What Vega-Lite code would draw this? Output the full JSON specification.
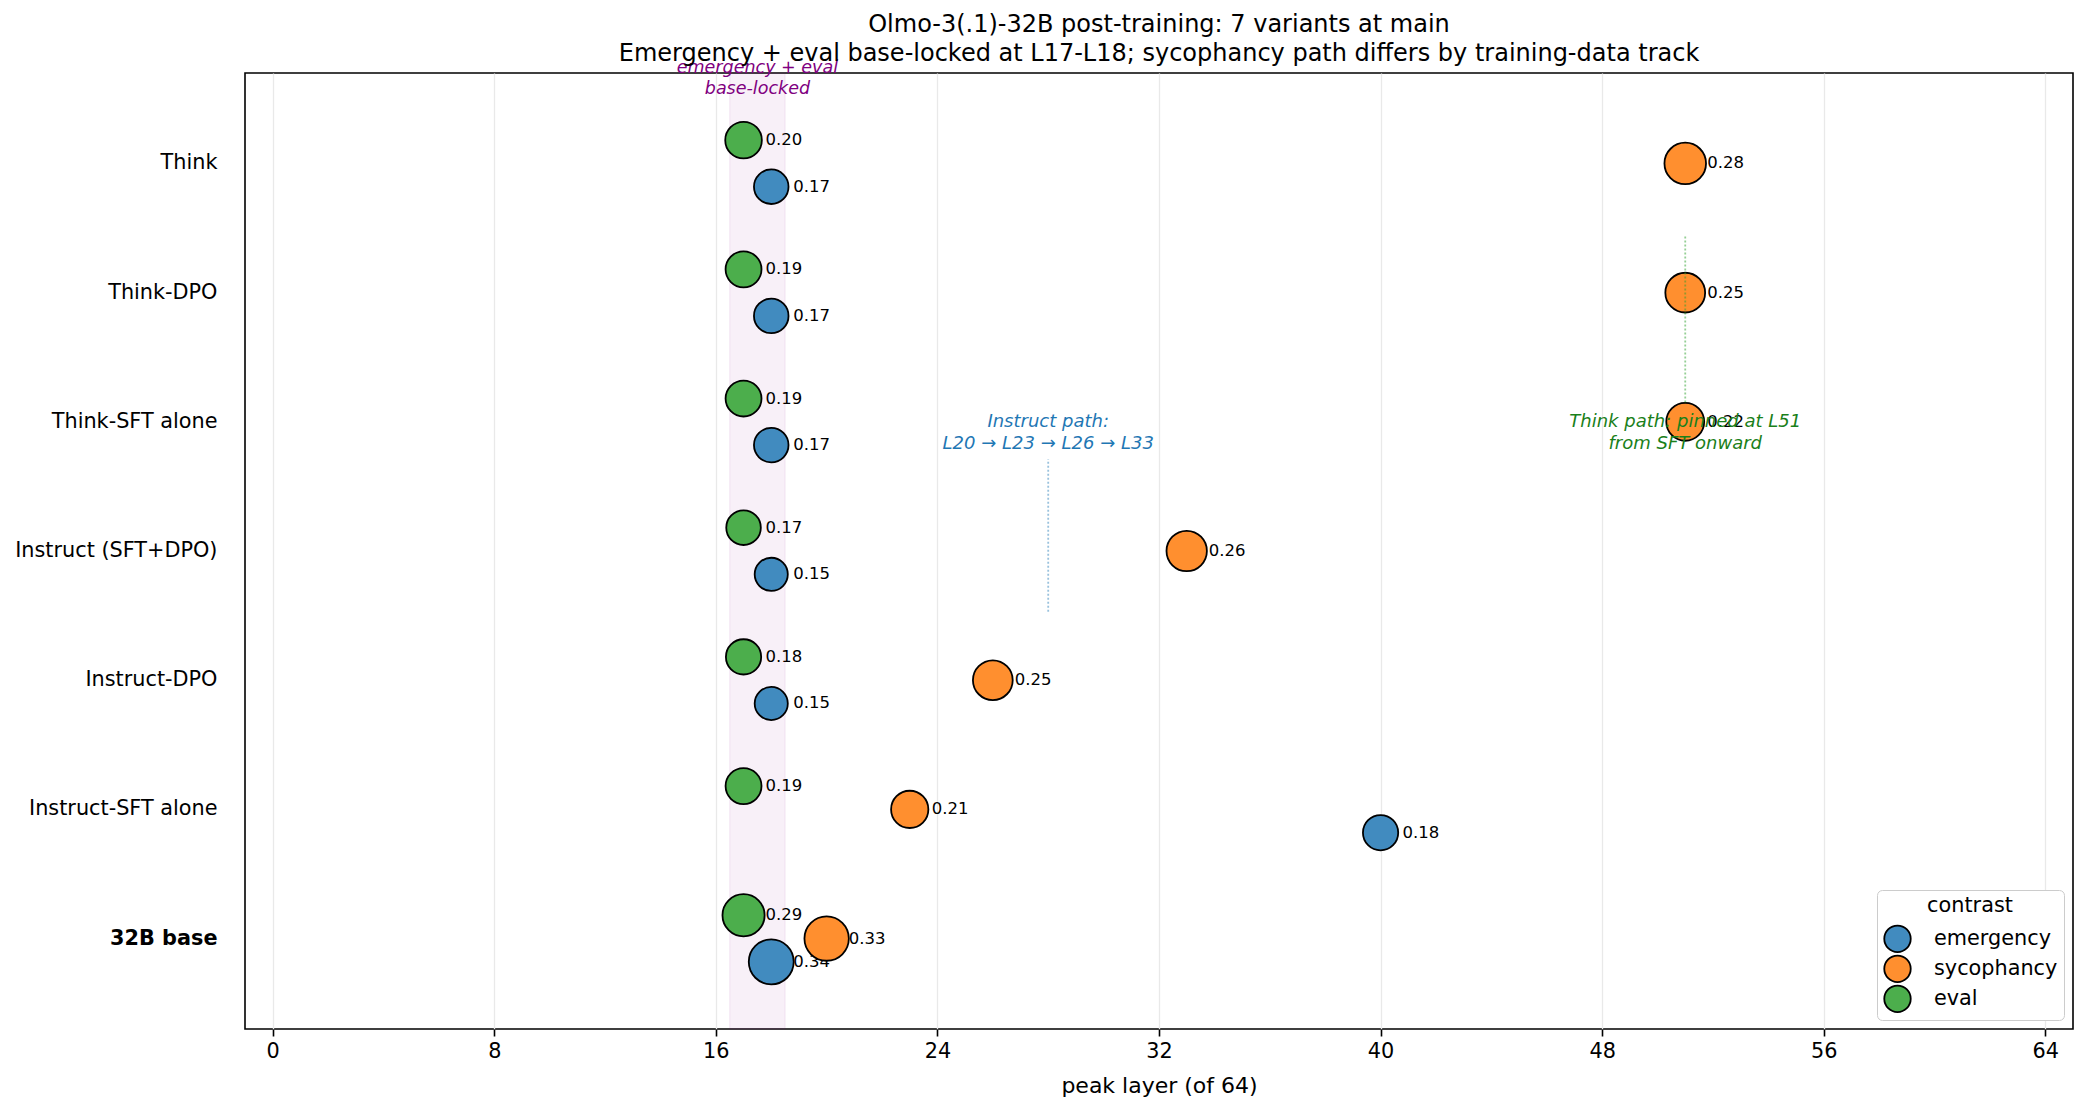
{
  "$schema": "https://vega.github.io/schema/vega-lite/v6.json",
  "width": 1828,
  "height": 956,
  "autosize": {"type": "none"},
  "padding": {"left": 245, "top": 73, "right": 15, "bottom": 83},
  "background": "white",
  "config": {
    "font": "DejaVu Sans",
    "view": {"stroke": "#000", "strokeWidth": 1.6},
    "axis": {"labelColor": "#000", "titleColor": "#000", "labelFontSize": 20.8, "titleFontSize": 22, "titleFontWeight": "normal", "domain": false},
    "legend": {
      "orient": "bottom-right", "offset": 9, "padding": 6, "fillColor": "white", "strokeColor": "#cccccc", "cornerRadius": 5,
      "titleFontSize": 20.8, "titleFontWeight": "normal", "titleColor": "#000", "titleAnchor": "middle", "titleAlign": "center", "titlePadding": 7,
      "labelFontSize": 20.8, "labelColor": "#000", "labelOffset": 22,
      "symbolType": "circle", "symbolSize": 700, "symbolStrokeColor": "#000", "symbolStrokeWidth": 1.8, "rowPadding": 0, "clipHeight": 30
    }
  },
  "title": {
    "text": ["Olmo-3(.1)-32B post-training: 7 variants at main", "Emergency + eval base-locked at L17-L18; sycophancy path differs by training-data track"],
    "fontSize": 24, "fontWeight": "normal", "lineHeight": 29, "anchor": "middle", "offset": 1, "dy": 8, "color": "#000"
  },
  "datasets": {
    "points": [
      {"variant": "Think", "contrast": "emergency", "layer": 18, "score": 0.17},
      {"variant": "Think", "contrast": "sycophancy", "layer": 51, "score": 0.28},
      {"variant": "Think", "contrast": "eval", "layer": 17, "score": 0.20},
      {"variant": "Think-DPO", "contrast": "emergency", "layer": 18, "score": 0.17},
      {"variant": "Think-DPO", "contrast": "sycophancy", "layer": 51, "score": 0.25},
      {"variant": "Think-DPO", "contrast": "eval", "layer": 17, "score": 0.19},
      {"variant": "Think-SFT alone", "contrast": "emergency", "layer": 18, "score": 0.17},
      {"variant": "Think-SFT alone", "contrast": "sycophancy", "layer": 51, "score": 0.22},
      {"variant": "Think-SFT alone", "contrast": "eval", "layer": 17, "score": 0.19},
      {"variant": "Instruct (SFT+DPO)", "contrast": "emergency", "layer": 18, "score": 0.15},
      {"variant": "Instruct (SFT+DPO)", "contrast": "sycophancy", "layer": 33, "score": 0.26},
      {"variant": "Instruct (SFT+DPO)", "contrast": "eval", "layer": 17, "score": 0.17},
      {"variant": "Instruct-DPO", "contrast": "emergency", "layer": 18, "score": 0.15},
      {"variant": "Instruct-DPO", "contrast": "sycophancy", "layer": 26, "score": 0.25},
      {"variant": "Instruct-DPO", "contrast": "eval", "layer": 17, "score": 0.18},
      {"variant": "Instruct-SFT alone", "contrast": "emergency", "layer": 40, "score": 0.18},
      {"variant": "Instruct-SFT alone", "contrast": "sycophancy", "layer": 23, "score": 0.21},
      {"variant": "Instruct-SFT alone", "contrast": "eval", "layer": 17, "score": 0.19},
      {"variant": "32B base", "contrast": "emergency", "layer": 18, "score": 0.34},
      {"variant": "32B base", "contrast": "sycophancy", "layer": 20, "score": 0.33},
      {"variant": "32B base", "contrast": "eval", "layer": 17, "score": 0.29}
    ]
  },
  "layer": [
    {
      "data": {"name": "points"},
      "layer": [
        {
          "data": {"values": [{}]},
          "mark": {"type": "rect", "fill": "#800080", "fillOpacity": 0.06, "stroke": "#800080", "strokeOpacity": 0.06, "strokeWidth": 1.5},
          "encoding": {"x": {"datum": 16.5, "type": "quantitative"}, "x2": {"datum": 18.5}}
        },
        {
          "transform": [{"filter": "datum.contrast === 'emergency'"}],
          "mark": {"type": "circle", "fillOpacity": 1, "stroke": "#000", "strokeWidth": 1.8},
          "encoding": {
            "x": {"field": "layer", "type": "quantitative", "scale": {"domain": [-1, 65], "nice": false, "zero": false},
              "axis": {"values": [0, 8, 16, 24, 32, 40, 48, 56, 64], "title": "peak layer (of 64)", "grid": true, "gridColor": "#e9e9e9", "gridWidth": 1.3, "tickSize": 7, "tickColor": "#000", "tickWidth": 1.6, "labelPadding": 5, "titlePadding": 15}},
            "y": {"field": "variant", "type": "nominal",
              "scale": {"domain": ["Think", "Think-DPO", "Think-SFT alone", "Instruct (SFT+DPO)", "Instruct-DPO", "Instruct-SFT alone", "32B base"], "paddingInner": 0, "paddingOuter": 0.2},
              "axis": {"title": null, "ticks": false, "labelPadding": 28, "labelLimit": 400, "grid": false, "labelFontWeight": {"condition": {"test": "datum.value === '32B base'", "value": "bold"}, "value": "normal"}}},
            "yOffset": {"field": "contrast", "type": "nominal", "scale": {"type": "point", "domain": ["eval", "sycophancy", "emergency"], "range": [41.3, 87.9], "padding": 0}},
            "color": {"field": "contrast", "type": "nominal", "scale": {"domain": ["emergency", "sycophancy", "eval"], "range": ["#418bbf", "#ff8f2f", "#4cae4c"]}, "legend": {"title": "contrast"}},
            "size": {"field": "score", "type": "quantitative", "scale": {"domain": [0, 1], "range": [371, 5217], "zero": false}, "legend": null}
          }
        },
        {
          "transform": [{"filter": "datum.contrast === 'emergency'"}],
          "mark": {"type": "text", "align": "left", "baseline": "middle", "dx": 22, "fontSize": 16.5, "color": "#000"},
          "encoding": {
            "x": {"field": "layer", "type": "quantitative"},
            "y": {"field": "variant", "type": "nominal"},
            "yOffset": {"field": "contrast", "type": "nominal"},
            "text": {"field": "score", "type": "quantitative", "format": ".2f"}
          }
        },
        {
          "transform": [{"filter": "datum.contrast === 'sycophancy'"}],
          "mark": {"type": "circle", "fillOpacity": 1, "stroke": "#000", "strokeWidth": 1.8},
          "encoding": {
            "x": {"field": "layer", "type": "quantitative"},
            "y": {"field": "variant", "type": "nominal"},
            "yOffset": {"field": "contrast", "type": "nominal"},
            "color": {"field": "contrast", "type": "nominal"},
            "size": {"field": "score", "type": "quantitative"}
          }
        },
        {
          "transform": [{"filter": "datum.contrast === 'sycophancy'"}],
          "mark": {"type": "text", "align": "left", "baseline": "middle", "dx": 22, "fontSize": 16.5, "color": "#000"},
          "encoding": {
            "x": {"field": "layer", "type": "quantitative"},
            "y": {"field": "variant", "type": "nominal"},
            "yOffset": {"field": "contrast", "type": "nominal"},
            "text": {"field": "score", "type": "quantitative", "format": ".2f"}
          }
        },
        {
          "transform": [{"filter": "datum.contrast === 'eval'"}],
          "mark": {"type": "circle", "fillOpacity": 1, "stroke": "#000", "strokeWidth": 1.8},
          "encoding": {
            "x": {"field": "layer", "type": "quantitative"},
            "y": {"field": "variant", "type": "nominal"},
            "yOffset": {"field": "contrast", "type": "nominal"},
            "color": {"field": "contrast", "type": "nominal"},
            "size": {"field": "score", "type": "quantitative"}
          }
        },
        {
          "transform": [{"filter": "datum.contrast === 'eval'"}],
          "mark": {"type": "text", "align": "left", "baseline": "middle", "dx": 22, "fontSize": 16.5, "color": "#000"},
          "encoding": {
            "x": {"field": "layer", "type": "quantitative"},
            "y": {"field": "variant", "type": "nominal"},
            "yOffset": {"field": "contrast", "type": "nominal"},
            "text": {"field": "score", "type": "quantitative", "format": ".2f"}
          }
        }
      ]
    },
    {
      "data": {"values": [{}]},
      "layer": [
        {
          "mark": {"type": "rule", "stroke": "#1f77b4", "strokeOpacity": 0.45, "strokeWidth": 1.8, "strokeDash": [2, 2]},
          "encoding": {"x": {"datum": 28, "type": "quantitative"}, "y": {"datum": 2.53, "type": "quantitative", "scale": {"domain": [-0.7, 6.7], "nice": false, "zero": false}, "axis": null}, "y2": {"datum": 3.71}}
        },
        {
          "mark": {"type": "rule", "stroke": "#2ca02c", "strokeOpacity": 0.5, "strokeWidth": 1.8, "strokeDash": [2, 2]},
          "encoding": {"x": {"datum": 51, "type": "quantitative"}, "y": {"datum": 4.15, "type": "quantitative"}, "y2": {"datum": 5.45}}
        },
        {
          "mark": {"type": "text", "text": ["emergency + eval", "base-locked"], "align": "center", "baseline": "middle", "lineHeight": 21, "fontSize": 17.5, "fontStyle": "italic", "color": "#800080"},
          "encoding": {"x": {"datum": 17.5, "type": "quantitative"}, "y": {"datum": 6.74, "type": "quantitative"}}
        },
        {
          "mark": {"type": "text", "text": ["Instruct path:", "L20 → L23 → L26 → L33"], "align": "center", "baseline": "middle", "lineHeight": 22, "fontSize": 18, "fontStyle": "italic", "color": "#1f77b4"},
          "encoding": {"x": {"datum": 28, "type": "quantitative"}, "y": {"datum": 4.0, "type": "quantitative"}}
        },
        {
          "mark": {"type": "text", "text": ["Think path: pinned at L51", "from SFT onward"], "align": "center", "baseline": "middle", "lineHeight": 22, "fontSize": 18, "fontStyle": "italic", "color": "#1a801a"},
          "encoding": {"x": {"datum": 51, "type": "quantitative"}, "y": {"datum": 4.0, "type": "quantitative"}}
        }
      ]
    }
  ],
  "resolve": {"scale": {"y": "independent"}}
}
